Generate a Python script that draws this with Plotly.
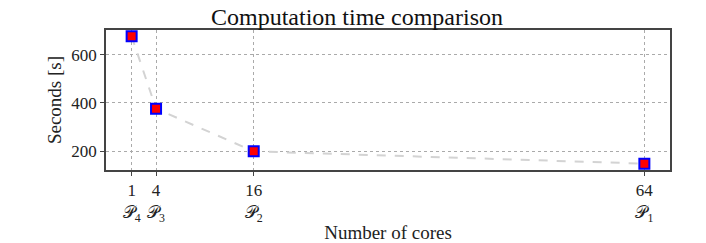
import plotly.graph_objects as go

cores = [1, 4, 16, 64]
seconds = [676, 376, 199, 148]
tick_vals = [1, 4, 16, 64]
tick_text = ["1<br>𝒫<sub>4</sub>", "4<br>𝒫<sub>3</sub>", "16<br>𝒫<sub>2</sub>", "64<br>𝒫<sub>1</sub>"]
y_ticks = [200, 400, 600]

font_family = "Liberation Serif, DejaVu Serif, serif"

fig = go.Figure()
fig.add_trace(go.Scatter(
    x=cores, y=seconds, mode="lines+markers",
    line=dict(color="#d3d3d3", width=2, dash="dash"),
    marker=dict(symbol="square", size=10, color="red", line=dict(color="blue", width=2)),
    showlegend=False,
))

# page body has an 8px default margin, so the figure is 8px smaller
fig.update_layout(
    width=698, height=235,
    margin=dict(l=98, r=36, t=22, b=73, autoexpand=False),
    paper_bgcolor="white", plot_bgcolor="white",
    font=dict(family=font_family, size=17, color="#222"),
    title=dict(text="Computation time comparison", x=0.5, xanchor="center",
               y=1.0, yanchor="top", font=dict(size=24, family=font_family, color="#111")),
)
fig.update_xaxes(
    automargin=False,
    range=[-2.15, 67.15], tickmode="array", tickvals=tick_vals, ticktext=tick_text,
    tickfont=dict(size=17),
    showgrid=True, gridcolor="#aaaaaa", gridwidth=0.8, griddash="dot",
    showline=True, linecolor="#444", linewidth=1.5, mirror=True,
    ticks="outside", ticklen=4, tickcolor="#444", zeroline=False,
    title=dict(text="Number of cores", standoff=2, font=dict(size=19)),
)
fig.update_yaxes(
    automargin=False,
    range=[121.6, 702.4], tickmode="array", tickvals=y_ticks,
    tickfont=dict(size=17),
    showgrid=True, gridcolor="#aaaaaa", gridwidth=0.8, griddash="dot",
    showline=True, linecolor="#444", linewidth=1.5, mirror=True,
    ticks="outside", ticklen=4, tickcolor="#444", zeroline=False,
    title=dict(text="Seconds [s]", standoff=5, font=dict(size=19)),
)

fig.write_html("out.html")
